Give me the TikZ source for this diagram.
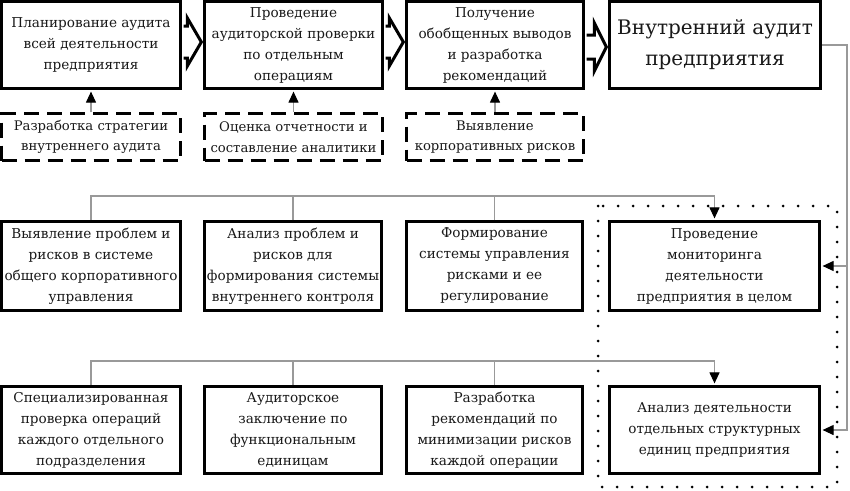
\documentclass[tikz,border=0pt]{standalone}
\usepackage{fontspec}
\setmainfont{DejaVu Serif}
\newfontfamily\rusf{DejaVu Serif}
\usetikzlibrary{calc,arrows.meta}
\newcommand\fatarr[5]{%
  \draw[fat] let \p1=#1, \p2=#2 in
    (\x1,\y1-#3) -- (\x2-#5,\y1-#3) -- (\x2-#5,\y1-#4) -- (\x2,\y1)
    -- (\x2-#5,\y1+#4) -- (\x2-#5,\y1+#3) -- (\x1,\y1+#3);}
\begin{document}
\begin{tikzpicture}[x=1pt,y=-1pt,
  box/.style={draw=black,line width=3.3pt,fill=white,align=center,inner sep=0pt,
    font=\rusf\fontsize{13.6}{21}\selectfont,text=black!90},
  dbox/.style={box,line width=3pt,dash pattern=on 15pt off 8pt,font=\rusf\fontsize{13.2}{20.5}\selectfont},
  conn/.style={draw=black!40,line width=1.1pt},
  tip/.style={-{Triangle[length=11pt,width=10pt,color=black]},shorten >=1.6pt},
  fat/.style={draw=black,line width=3pt,line join=miter},
  dots/.style={draw=black,line width=3pt,line cap=round,dash pattern=on 0pt off 15pt}]
\useasboundingbox[fill=white] (0,0) rectangle (850,490);

% top row
\node[box,minimum width=178.7pt,minimum height=86.7pt] (t1) at (91,45)
  {Планирование аудита\\всей деятельности\\предприятия};
\node[box,minimum width=177.7pt,minimum height=86.7pt] (t2) at (293.5,45)
  {Проведение\\аудиторской проверки\\по отдельным\\операциям};
\node[box,minimum width=176.7pt,minimum height=86.7pt] (t3) at (495,45)
  {Получение\\обобщенных выводов\\и разработка\\рекомендаций};
\node[box,minimum width=210.7pt,minimum height=86.7pt,font=\rusf\fontsize{20}{31}\selectfont] (t4) at (715,45)
  {Внутренний аудит\\предприятия};

% dashed row
\node[dbox,minimum width=179pt,minimum height=47pt] (d1) at (91,137)
  {Разработка стратегии\\внутреннего аудита};
\node[dbox,minimum width=178pt,minimum height=47pt] (d2) at (293.5,137)
  {Оценка отчетности и\\составление аналитики};
\node[dbox,minimum width=177pt,minimum height=47pt] (d3) at (495,137)
  {Выявление\\корпоративных рисков};

% third row
\node[box,minimum width=178.7pt,minimum height=88.7pt] (r3a) at (91,266)
  {Выявление проблем и\\рисков в системе\\общего корпоративного\\управления};
\node[box,minimum width=176.7pt,minimum height=88.7pt] (r3b) at (293,266)
  {Анализ проблем и\\рисков для\\формирования системы\\внутреннего контроля};
\node[box,minimum width=175.7pt,minimum height=88.7pt] (r3c) at (494.5,266)
  {Формирование\\системы управления\\рисками и ее\\регулирование};
\node[box,minimum width=209.7pt,minimum height=88.7pt] (r3d) at (714.5,266)
  {Проведение\\мониторинга\\деятельности\\предприятия в целом};

% fourth row
\node[box,minimum width=178.7pt,minimum height=86.7pt] (r4a) at (91,430)
  {Специализированная\\проверка операций\\каждого отдельного\\подразделения};
\node[box,minimum width=176.7pt,minimum height=86.7pt] (r4b) at (293,430)
  {Аудиторское\\заключение по\\функциональным\\единицам};
\node[box,minimum width=175.7pt,minimum height=86.7pt] (r4c) at (494.5,430)
  {Разработка\\рекомендаций по\\минимизации рисков\\каждой операции};
\node[box,minimum width=209.7pt,minimum height=86.7pt] (r4d) at (714.5,430)
  {Анализ деятельности\\отдельных структурных\\единиц предприятия};

% fat arrows between top boxes
\fatarr{($(t1.east)+(1.65,-3)$)}{($(t2.west)+(-1.65,-3)$)}{16pt}{24pt}{14pt}
\fatarr{($(t2.east)+(1.65,-3)$)}{($(t3.west)+(-1.65,-3)$)}{16pt}{24pt}{14pt}
\fatarr{($(t3.east)+(1.65,2)$)}{($(t4.west)+(-1.65,2)$)}{12pt}{24pt}{12pt}

% up arrows
\draw[conn,tip] (d1.north) -- (t1.south);
\draw[conn,tip] (d2.north) -- (t2.south);
\draw[conn,tip] (d3.north) -- (t3.south);

% bus lines
\coordinate (h3) at (0,196);
\coordinate (h4) at (0,361);
\draw[conn,tip] (r3a.north) |- (h3 -| r3d.north) -- (r3d.north);
\draw[conn] (r3b.north) -- (r3b.north |- h3);
\draw[conn] (r3c.north) -- (r3c.north |- h3);
\draw[conn,tip] (r4a.north) |- (h4 -| r4d.north) -- (r4d.north);
\draw[conn] (r4b.north) -- (r4b.north |- h4);
\draw[conn] (r4c.north) -- (r4c.north |- h4);

% right feedback line
\coordinate (rx) at (847,0);
\draw[conn,tip] (t4.east) -| (rx |- r4d.east) -- (r4d.east);
\draw[conn,tip] (rx |- r3d.east) -- (r3d.east);

% dotted frame
\draw[dots] (598,206) rectangle (837,487);
\end{tikzpicture}
\end{document}
